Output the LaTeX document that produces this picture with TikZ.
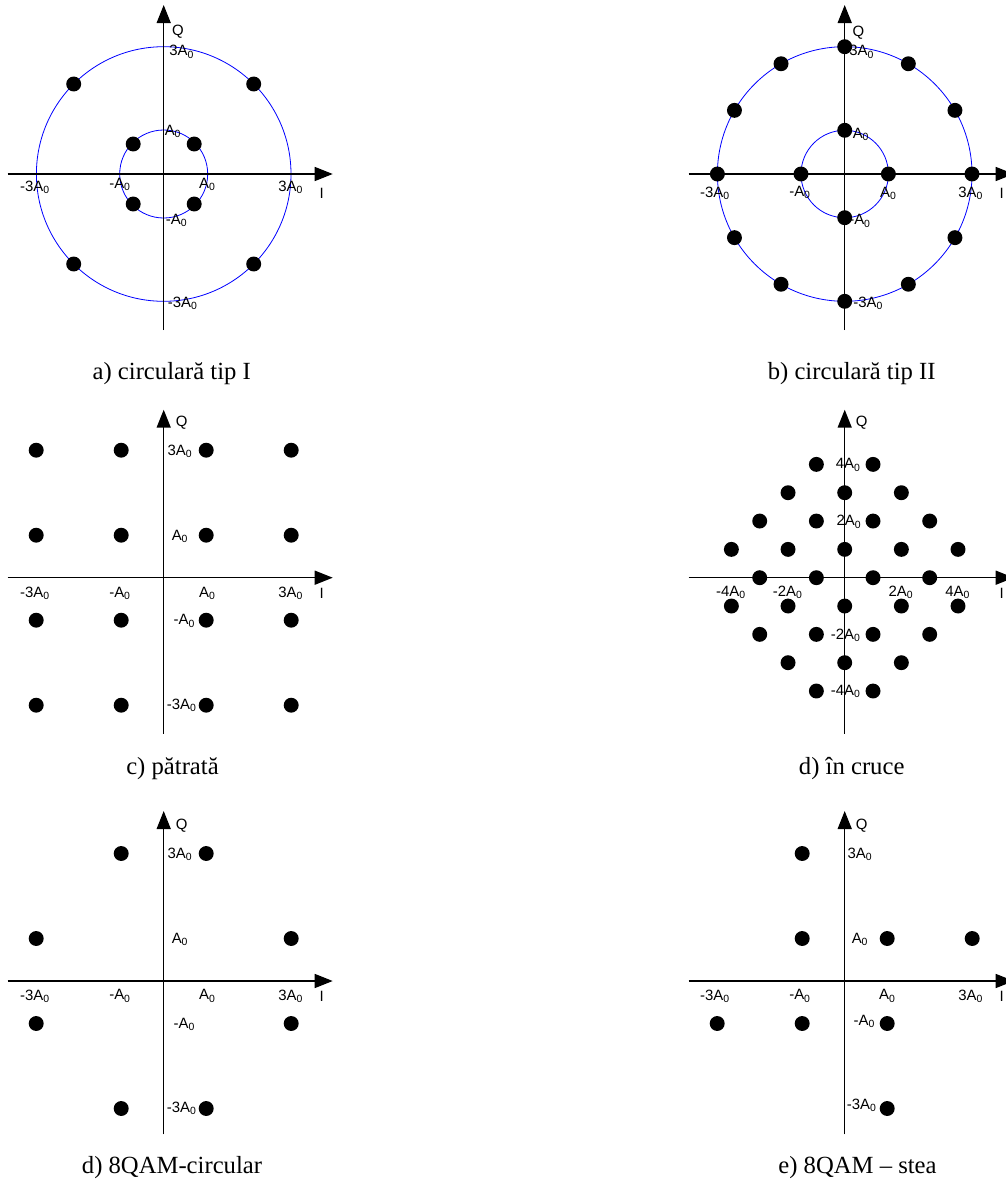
\documentclass[tikz,border=0pt]{standalone}
\usepackage{fontspec}
\setmainfont{Liberation Serif}
\newfontfamily\labfont{Liberation Sans}
\usetikzlibrary{arrows.meta}
\newcommand{\Az}{A\textsubscript{0}}
\tikzset{
  axis/.style={line width=1.1pt, -{Triangle[length=13.5pt,width=10.5pt]}},
  ring/.style={blue, line width=0.6pt},
  dot/.style={circle, fill=black, draw=none, inner sep=0pt, minimum size=11.2pt},
  lab/.style={font=\labfont\fontsize{11.2}{13}\selectfont, inner sep=0pt},
  captext/.style={font=\fontsize{18.5}{22}\selectfont, inner sep=0pt, anchor=base},
}
\begin{document}
\begin{tikzpicture}[x=0.75pt,y=-0.75pt]
\useasboundingbox (0,0) rectangle (1006,1189);

% ---------- a) circular tip I
\begin{scope}[shift={(163.7,174)}]
  \draw[ring] (0,0) circle[radius=127.3];
  \draw[ring] (0,0) circle[radius=44];
  \coordinate (aW) at (-156,0); \coordinate (aE) at (169,0);
  \coordinate (aS) at (0,156);  \coordinate (aN) at (0,-169);
  \draw[axis] (aW) -- (aE);
  \draw[axis] (aS) -- (aN);
  \node[lab] (aQ) at (14.3,-142) {Q};
  \node[lab] (aI) at (158,19.3) {I};
  \node[lab] (aL1) at (18,-122.3) {3\Az};
  \node[lab] (aL2) at (9.3,-42.3) {\Az};
  \node[lab] (aL3) at (-128.7,13.3) {-3\Az};
  \node[lab] (aL4) at (-43.7,10.3) {-\Az};
  \node[lab] (aL5) at (43.6,10.3) {\Az};
  \node[lab] (aL6) at (127,13.3) {3\Az};
  \node[lab] (aL7) at (13,46.7) {-\Az};
  \node[lab] (aL8) at (19,129.3) {-3\Az};
  \foreach \p [count=\i] in {(30.5,-30),(-30.5,-30),(30.5,30),(-30.5,30),(90,-90),(-90,-90),(90,90),(-90,90)}
    \node[dot] (aD\i) at \p {};
\end{scope}
\node[captext] (capA) at (171.7,379) {a) circulară tip I};

% ---------- b) circular tip II
\begin{scope}[shift={(844.7,174)}]
  \draw[ring] (0,0) circle[radius=127.3];
  \draw[ring] (0,0) circle[radius=43.7];
  \coordinate (bW) at (-156,0); \coordinate (bE) at (169,0);
  \coordinate (bS) at (0,156);  \coordinate (bN) at (0,-169);
  \draw[axis] (bW) -- (bE);
  \draw[axis] (bS) -- (bN);
  \node[lab] (bQ) at (13.6,-141.7) {Q};
  \node[lab] (bI) at (157,19.3) {I};
  \node[lab] (bL1) at (17,-122.3) {3\Az};
  \node[lab] (bL2) at (16.3,-39.7) {\Az};
  \node[lab] (bL3) at (-129.7,19.3) {-3\Az};
  \node[lab] (bL4) at (-44.7,18.3) {-\Az};
  \node[lab] (bL5) at (43.6,19.3) {\Az};
  \node[lab] (bL6) at (126,19.3) {3\Az};
  \node[lab] (bL7) at (15.3,47) {-\Az};
  \node[lab] (bL8) at (23.6,129.3) {-3\Az};
  \foreach \a in {0,30,...,330}
    \node[dot] (bO\a) at (\a:127.3) {};
  \foreach \a in {0,90,180,270}
    \node[dot] (bN\a) at (\a:43.7) {};
\end{scope}
\node[captext] (capB) at (851.7,379) {b) circulară tip II};

% ---------- c) patrata
\begin{scope}[shift={(163.7,577.7)}]
  \coordinate (cW) at (-156,0); \coordinate (cE) at (169,0);
  \coordinate (cS) at (0,156);  \coordinate (cN) at (0,-168);
  \draw[axis] (cW) -- (cE);
  \draw[axis] (cS) -- (cN);
  \node[lab] (cQ) at (18,-155.4) {Q};
  \node[lab] (cI) at (158,15.6) {I};
  \node[lab] (cL1) at (16.3,-126.7) {3\Az};
  \node[lab] (cL2) at (16.3,-41) {\Az};
  \node[lab] (cL3) at (-128.7,15.6) {-3\Az};
  \node[lab] (cL4) at (-43.7,15.6) {-\Az};
  \node[lab] (cL5) at (43.6,15.6) {\Az};
  \node[lab] (cL6) at (127,15.6) {3\Az};
  \node[lab] (cL7) at (20.6,43.3) {-\Az};
  \node[lab] (cL8) at (18,127.3) {-3\Az};
  \foreach \i in {-3,-1,1,3}
    \foreach \j in {-3,-1,1,3}
      \node[dot] (cD\i\j) at (42.5*\i,-42.5*\j) {};
\end{scope}
\node[captext] (capC) at (172.5,774.3) {c) pătrată};

% ---------- d) in cruce
\begin{scope}[shift={(844.7,577.7)}]
  \coordinate (dW) at (-156,0); \coordinate (dE) at (169,0);
  \coordinate (dS) at (0,156);  \coordinate (dN) at (0,-168);
  \draw[axis] (dW) -- (dE);
  \draw[axis] (dS) -- (dN);
  \node[lab] (dQ) at (17,-155.4) {Q};
  \node[lab] (dI) at (157,15.6) {I};
  \node[lab] (dL1) at (3.6,-112.7) {4\Az};
  \node[lab] (dL2) at (4.3,-56) {2\Az};
  \node[lab] (dL3) at (-113.7,14.6) {-4\Az};
  \node[lab] (dL4) at (-57,14.6) {-2\Az};
  \node[lab] (dL5) at (56.3,14.6) {2\Az};
  \node[lab] (dL6) at (113,14.6) {4\Az};
  \node[lab] (dL7) at (1,57.3) {-2\Az};
  \node[lab] (dL8) at (1,114) {-4\Az};
  \foreach \j/\ilist in {4/{-1,1},3/{-2,0,2},2/{-3,-1,1,3},1/{-4,-2,0,2,4},0/{-3,-1,1,3},-1/{-4,-2,0,2,4},-2/{-3,-1,1,3},-3/{-2,0,2},-4/{-1,1}}
    \foreach \i in \ilist
      \node[dot] (dD\i\j) at (28.33*\i,-28.33*\j) {};
\end{scope}
\node[captext] (capD) at (851.7,774.3) {d) în cruce};

% ---------- e) 8QAM circular
\begin{scope}[shift={(163.7,981)}]
  \coordinate (eW) at (-156,0); \coordinate (eE) at (169,0);
  \coordinate (eS) at (0,153.3);  \coordinate (eN) at (0,-170);
  \draw[axis] (eW) -- (eE);
  \draw[axis] (eS) -- (eN);
  \node[lab] (eQ) at (18,-155) {Q};
  \node[lab] (eI) at (158,15) {I};
  \node[lab] (eL1) at (16.3,-126.7) {3\Az};
  \node[lab] (eL2) at (16.3,-41.7) {\Az};
  \node[lab] (eL3) at (-128.7,15) {-3\Az};
  \node[lab] (eL4) at (-43.7,15) {-\Az};
  \node[lab] (eL5) at (43.6,15) {\Az};
  \node[lab] (eL6) at (127,15) {3\Az};
  \node[lab] (eL7) at (20.6,43.3) {-\Az};
  \node[lab] (eL8) at (18,127.3) {-3\Az};
  \foreach \i/\j [count=\k] in {-1/3,1/3,-3/1,3/1,-3/-1,3/-1,-1/-3,1/-3}
    \node[dot] (eD\k) at (42.5*\i,-42.5*\j) {};
\end{scope}
\node[captext] (capE) at (172,1173.3) {d) 8QAM-circular};

% ---------- f) 8QAM stea
\begin{scope}[shift={(844.7,981)}]
  \coordinate (fW) at (-156,0); \coordinate (fE) at (169,0);
  \coordinate (fS) at (0,153.3);  \coordinate (fN) at (0,-170);
  \draw[axis] (fW) -- (fE);
  \draw[axis] (fS) -- (fN);
  \node[lab] (fQ) at (17,-155) {Q};
  \node[lab] (fI) at (157,15) {I};
  \node[lab] (fL1) at (15.3,-126.7) {3\Az};
  \node[lab] (fL2) at (15.3,-41.7) {\Az};
  \node[lab] (fL3) at (-129.7,15) {-3\Az};
  \node[lab] (fL4) at (-44.7,15) {-\Az};
  \node[lab] (fL5) at (42.6,15) {\Az};
  \node[lab] (fL6) at (126,15) {3\Az};
  \node[lab] (fL7) at (19.6,40.7) {-\Az};
  \node[lab] (fL8) at (17,124) {-3\Az};
  \foreach \i/\j [count=\k] in {-1/3,-1/1,1/1,3/1,-3/-1,-1/-1,1/-1,1/-3}
    \node[dot] (fD\k) at (42.5*\i,-42.5*\j) {};
\end{scope}
\node[captext] (capF) at (857.5,1173.3) {e) 8QAM – stea};
\end{tikzpicture}
\end{document}
